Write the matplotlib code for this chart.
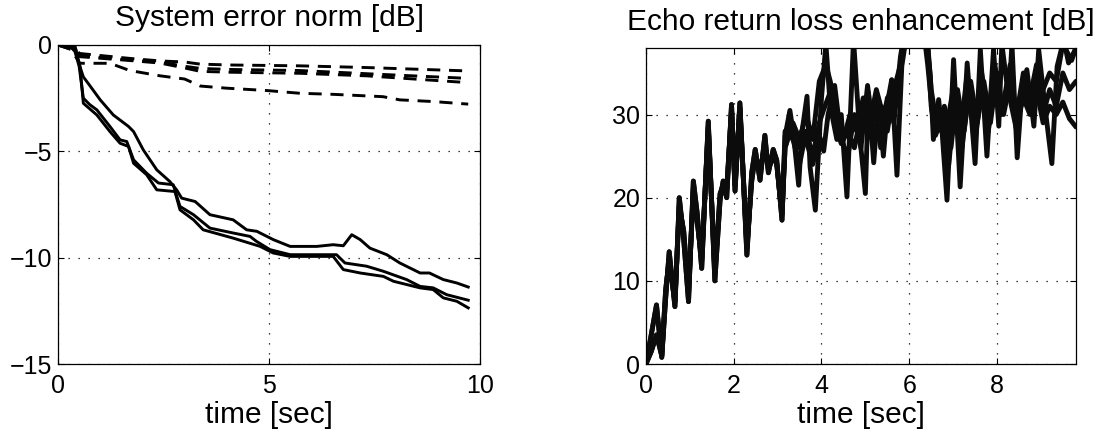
"""Recreation of the adaptive echo canceller comparison plots."""

import matplotlib

matplotlib.use("Agg")
import matplotlib.pyplot as plt
import numpy as np

plt.rcParams["font.family"] = ["Liberation Sans", "DejaVu Sans"]

# Left panel: system error norm [dB], three solid and four dashed curves.
t_s1 = [0, 0.3, 0.42, 0.5, 0.6, 0.75, 1.0, 1.31, 1.67, 1.79, 2.02, 2.34, 2.65, 2.81, 2.93, 3.25,
        3.6, 4.15, 4.47, 4.71, 5.1, 5.5, 6.13, 6.52, 6.76, 6.96, 7.16, 7.39, 7.79, 8.1, 8.58, 8.8,
        9.13, 9.45, 9.72]
sen_s1 = [0, 0, -0.2, -0.9, -1.5, -1.9, -2.58, -3.29, -3.83, -4.07, -4.93, -5.87, -6.42, -6.81,
          -7.2, -7.36, -7.98, -8.22, -8.69, -8.76, -9.15, -9.47, -9.47, -9.39, -9.44, -8.92, -9.15,
          -9.55, -9.86, -10.25, -10.72, -10.72, -11.03, -11.19, -11.38]

t_s2 = [0, 0.25, 0.4, 0.5, 0.6, 0.75, 0.92, 1.23, 1.47, 1.63, 1.79, 2.1, 2.38, 2.73, 2.89, 3.21,
        3.6, 4.15, 4.55, 4.7, 5.02, 5.5, 6.6, 6.8, 7.31, 7.71, 8.26, 8.58, 8.89, 9.21, 9.72]
sen_s2 = [0, 0, -0.3, -1.0, -2.5, -2.8, -3.05, -3.83, -4.46, -4.54, -5.4, -6.03, -6.49, -6.57,
          -7.59, -7.98, -8.61, -8.84, -9.0, -9.23, -9.62, -9.86, -9.86, -10.25, -10.4, -10.64,
          -11.03, -11.35, -11.42, -11.74, -12.0]

t_s3 = [0, 0.3, 0.4, 0.45, 0.52, 0.6, 0.92, 1.23, 1.47, 1.67, 1.79, 2.1, 2.34, 2.77, 2.89, 3.21,
        3.44, 4.15, 4.79, 5.1, 5.5, 6.52, 6.76, 7.16, 7.71, 7.95, 8.58, 8.89, 9.13, 9.45, 9.72]
sen_s3 = [0, 0, 0.0, -0.5, -1.0, -2.74, -3.29, -4.07, -4.62, -4.77, -5.56, -6.1, -6.81, -6.89,
          -7.75, -8.22, -8.69, -9.08, -9.47, -9.78, -9.94, -9.94, -10.56, -10.72, -10.88, -11.11,
          -11.42, -11.5, -11.89, -12.05, -12.36]

t_dash = [0, 0.3, 0.52, 1.7, 2.42, 3.0, 3.37, 4.07, 5.73, 7.31, 9.72]
sen_d1 = [0, -0.1, -0.4, -0.63, -0.75, -0.8, -0.9, -0.94, -0.98, -1.06, -1.22]
sen_d2 = [0, -0.15, -0.5, -0.7, -0.8, -1.0, -1.1, -1.15, -1.2, -1.35, -1.57]
sen_d3 = [0, -0.2, -0.55, -0.73, -0.85, -1.08, -1.24, -1.28, -1.33, -1.45, -1.77]

t_d4 = [0, 0.3, 0.52, 1.23, 1.7, 2.42, 3.0, 3.37, 3.99, 4.94, 5.73, 6.52, 7.7, 8.1, 8.9, 9.72]
sen_d4 = [0, -0.2, -0.86, -0.86, -1.2, -1.45, -1.6, -1.93, -2.03, -2.14, -2.27, -2.32, -2.43,
          -2.58, -2.66, -2.78]

# Right panel: echo return loss enhancement [dB]. The curves overlap until ~3 s.
t_early = [0, 0.12, 0.24, 0.36, 0.45, 0.53, 0.66, 0.76, 0.86, 0.97, 1.08, 1.17, 1.27, 1.42, 1.57,
           1.69, 1.76, 1.84, 1.95, 2.03, 2.14, 2.3, 2.41, 2.49, 2.6, 2.71, 2.79, 2.9, 2.98, 3.1]
erle_early_a = [0, 3.5, 7.1, 0.8, 8, 13.5, 6.9, 20, 15, 7.5, 22, 18, 11.5, 29.2, 10, 19.8, 22, 20,
                31.2, 20.8, 31.4, 13.1, 23, 25.8, 22.1, 27.5, 23, 25.8, 24.5, 17.3]
erle_early_b = [0, 1.5, 3.5, 1.0, 9, 12.5, 7.5, 19, 16, 8.5, 21, 17, 12.5, 28.5, 11, 20.5, 21.5,
                21, 30.5, 21.5, 30.8, 14, 22, 25, 23, 26.5, 23.5, 25, 24, 18]

t_late_a = [3.17, 3.28, 3.36, 3.48, 3.55, 3.67, 3.74, 3.86, 4.0, 4.1, 4.2, 4.35, 4.45, 4.58, 4.73,
            4.88, 5.0, 5.07, 5.19, 5.3, 5.41, 5.53, 5.6, 5.72, 5.83, 5.95, 6.15, 6.38, 6.48, 6.55,
            6.67, 6.75, 6.86, 7.01, 7.16, 7.32, 7.5, 7.62, 7.77, 7.92, 8.04, 8.11, 8.27, 8.34,
            8.46, 8.57, 8.68, 8.84, 8.95, 9.1, 9.25, 9.37, 9.52, 9.63, 9.8]
erle_late_a = [27.4, 30.5, 27.7, 21.5, 27.7, 32.2, 23.7, 18.5, 32, 38.5, 31, 27, 30, 20.1, 39,
               27, 20.5, 32.6, 24.2, 31.8, 25, 32.2, 34.2, 22.7, 35.8, 40, 48, 40, 34.6, 27,
               31.8, 27.8, 19.7, 36.6, 21.3, 36.2, 24.1, 37.8, 25, 37.8, 28.6, 38.5, 31.8, 38.5,
               24.8, 33, 35.4, 28.6, 37.8, 30.6, 24.1, 35.8, 39, 36.2, 38]

t_late_b = [3.17, 3.3, 3.45, 3.55, 3.7, 3.8, 3.95, 4.05, 4.15, 4.3, 4.45, 4.6, 4.75, 4.9, 5.05,
            5.2, 5.35, 5.5, 5.65, 5.8, 5.92, 6.15, 6.42, 6.55, 6.65, 6.8, 7.0, 7.15, 7.3, 7.5,
            7.65, 7.8, 7.95, 8.1, 8.25, 8.45, 8.6, 8.75, 8.9, 9.05, 9.2, 9.35, 9.5, 9.65, 9.8]
erle_late_b = [26, 28.5, 26, 28, 26, 24, 27.5, 25.6, 30, 33.5, 27, 25, 30, 26, 33.5, 27, 31, 28,
               33, 36, 40, 48, 36, 29, 30, 27, 33, 27, 34, 29, 35, 30, 36, 31, 33, 28, 33, 31, 35,
               30, 33, 31, 35, 33, 34]

t_late_c = [3.17, 3.35, 3.5, 3.65, 3.8, 3.95, 4.05, 4.2, 4.3, 4.45, 4.6, 4.75, 4.9, 5.05, 5.2,
            5.35, 5.5, 5.65, 5.8, 5.9, 6.15, 6.4, 6.5, 6.6, 6.75, 6.9, 7.05, 7.2, 7.35, 7.5, 7.65,
            7.8, 7.95, 8.1, 8.3, 8.45, 8.6, 8.75, 8.9, 9.05, 9.2, 9.35, 9.5, 9.65, 9.8]
erle_late_c = [28, 27, 24, 28, 25, 29, 30.6, 32.7, 29, 26.5, 28, 26, 30, 28, 31, 26, 32, 29, 37,
               40, 48, 40, 31, 27.5, 30, 24, 32, 26, 32.5, 27, 33, 28, 34, 30, 36, 29, 32, 30, 33,
               29, 31, 30, 31.5, 29.5, 28.5]

t_late_d = [3.17, 3.35, 3.5, 3.65, 3.8, 3.95, 4.1, 4.2, 4.35, 4.5, 4.65, 4.8, 4.95, 5.1, 5.25,
            5.4, 5.55, 5.7, 5.85, 5.95, 6.15, 6.4, 6.5, 6.65, 6.8, 6.95, 7.1, 7.25, 7.4, 7.55,
            7.7, 7.85, 8.0, 8.15, 8.3, 8.45, 8.6, 8.75, 8.9, 9.05, 9.2, 9.35, 9.5, 9.6, 9.7, 9.8]
erle_late_d = [26, 29, 27, 30, 27, 34, 36, 34, 30, 27, 30, 28, 32, 29, 33, 30, 32.5, 31, 38, 40,
               48, 40, 33, 28, 31, 26, 33, 28, 34, 29, 34, 29, 35, 30, 34, 30, 35, 32, 36, 33, 35,
               34, 38.5, 37.5, 36.5, 38]

TICK_SIZE = 18
LABEL_SIZE = 21.5


def style_axes(ax):
    """MATLAB-like look: inward ticks on all sides and a dotted grid."""
    ax.grid(True, color="k", linestyle=(0, (1, 7)), linewidth=0.9)
    ax.tick_params(direction="in", length=4, width=0.8, top=True, right=True,
                   labelsize=TICK_SIZE, pad=7)
    ax.tick_params(axis="y", pad=4)
    for spine in ax.spines.values():
        spine.set_linewidth(0.9)
    ax.set_xlabel("time [sec]", fontsize=LABEL_SIZE, labelpad=2)


def main() -> None:
    fig = plt.figure(figsize=(11.01, 4.36), dpi=100)
    ax1 = fig.add_axes([0.0527, 0.1651, 0.3833, 0.7317])
    ax2 = fig.add_axes([0.5867, 0.1651, 0.3906, 0.7248])

    # System error norm
    for t, v in [(t_s1, sen_s1), (t_s2, sen_s2), (t_s3, sen_s3)]:
        ax1.plot(t, v, color="k", linewidth=2.1)
    for t, v in [(t_dash, sen_d1), (t_dash, sen_d2), (t_dash, sen_d3), (t_d4, sen_d4)]:
        ax1.plot(t, v, color="k", linewidth=2.1, dashes=(4.5, 3))
    ax1.set_xlim(0, 10)
    ax1.set_ylim(-15, 0)
    ax1.set_xticks([0, 5, 10])
    ax1.set_yticks([-15, -10, -5, 0])
    ax1.set_title("System error norm [dB]", fontsize=LABEL_SIZE, pad=14)
    style_axes(ax1)

    # Echo return loss enhancement
    curves = [
        (erle_early_a, t_late_a, erle_late_a),
        (erle_early_b, t_late_b, erle_late_b),
        (erle_early_a, t_late_c, erle_late_c),
        (erle_early_b, t_late_d, erle_late_d),
    ]
    for early, t_late, late in curves:
        t = np.concatenate([t_early, t_late])
        v = np.concatenate([early, late])
        ax2.plot(t, v, color="#0c0c0c", linewidth=3.5, solid_joinstyle="round",
                 solid_capstyle="round")
    ax2.set_xlim(0, 9.8)
    ax2.set_ylim(0, 38)
    ax2.set_xticks([0, 2, 4, 6, 8])
    ax2.set_yticks([0, 10, 20, 30])
    ax2.set_title("Echo return loss enhancement [dB]", fontsize=LABEL_SIZE, pad=13)
    style_axes(ax2)

    fig.savefig("out.png", dpi=100)
    plt.close(fig)


if __name__ == "__main__":
    main()
